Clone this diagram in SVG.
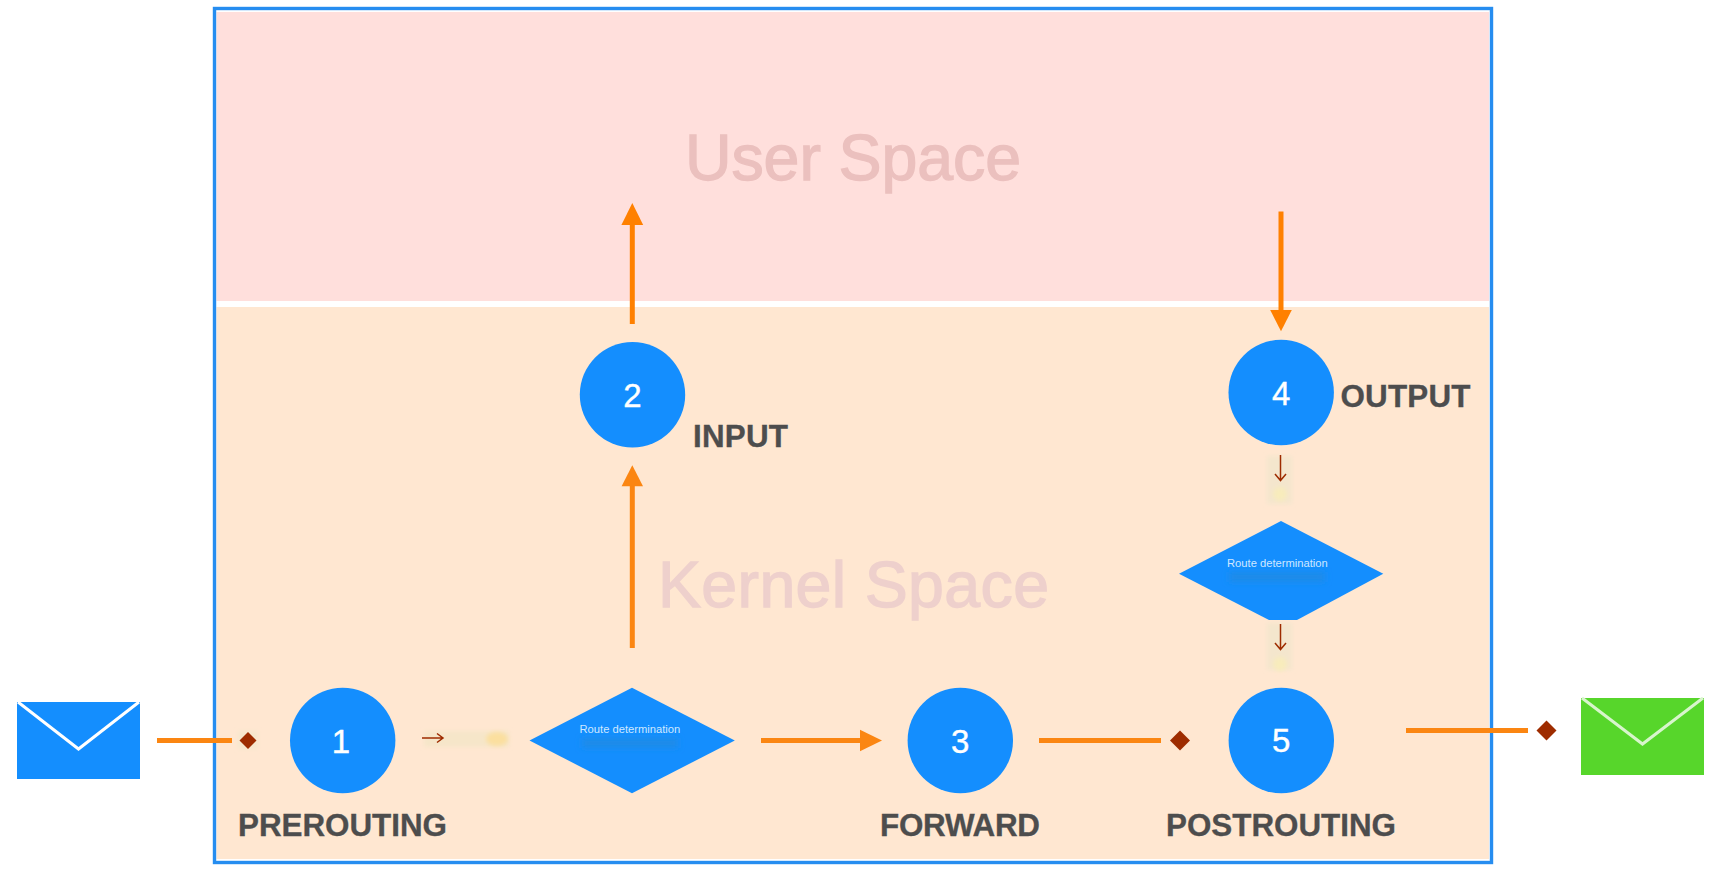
<svg xmlns="http://www.w3.org/2000/svg" width="1718" height="874" viewBox="0 0 1718 874">
<style>
.lane-label{font-family:"Liberation Sans",Arial,sans-serif;font-size:64.500px;stroke-width:1.300}
.hook{font-family:"Liberation Sans",Arial,sans-serif;font-size:31.400px;font-weight:700;fill:#4d4d4d;stroke:#4d4d4d;stroke-width:.3}
.num{font-family:"Liberation Sans",Arial,sans-serif;font-size:33px;fill:#fff;stroke:#fff;stroke-width:.4;text-anchor:middle}
.route{font-family:"Liberation Sans",Arial,sans-serif;font-size:11.200px;fill:#cfe8ff}
.disc{fill:#148efe}
.wire{stroke:#fb8612;stroke-width:5;fill:none}
.stem{fill:#fb8612}
.stop{fill:#9e2c00}
.thin{stroke:#9e2c00;stroke-width:1.500;fill:none}
</style>
<defs>
<filter id="soft" x="-40%" y="-40%" width="180%" height="180%"><feGaussianBlur stdDeviation="2.200"/></filter>
<filter id="soft2" x="-30%" y="-60%" width="160%" height="220%"><feGaussianBlur stdDeviation="3"/></filter>
</defs>
<g id="frame">
<rect x="216.500" y="12" width="1272.500" height="289" fill="#ffdfdc"/>
<rect x="216.500" y="307" width="1272.500" height="552" fill="#ffe7d1"/>
<rect x="214.500" y="8.500" width="1277" height="854" fill="none" stroke="#268df0" stroke-width="3.400"/>
<text class="lane-label" x="685" y="180" fill="#ebc0be" stroke="#ebc0be" textLength="336">User Space</text>
<text class="lane-label" x="658" y="607" fill="#eed0cc" stroke="#eed0cc" textLength="391">Kernel Space</text>
</g>
<g id="smudges">
<rect x="424" y="731" width="85" height="16" fill="#f6e6c9" filter="url(#soft)"/>
<ellipse cx="497" cy="739" rx="11" ry="7" fill="#fbdf9f" filter="url(#soft)"/>
<rect x="1267" y="456" width="25" height="48" fill="#f4e6cd" filter="url(#soft)"/>
<ellipse cx="1280" cy="494" rx="7" ry="7" fill="#f8ecbc" filter="url(#soft)"/>
<rect x="1267" y="623" width="25" height="47" fill="#f4e6cd" filter="url(#soft)"/>
<ellipse cx="1280" cy="664" rx="7" ry="7" fill="#f8ecbc" filter="url(#soft)"/>
<rect x="238" y="731" width="20" height="18" fill="#f6e7cd" filter="url(#soft)"/>
</g>
<g id="connectors">
<line class="wire" x1="157" y1="740.500" x2="232" y2="740.500"/>
<path class="stop" d="M248 732L256.500 740.500L248 749L239.500 740.500Z"/>
<path class="thin" d="M422 738H443M437 733.500L443 738L437 742.500"/>
<line class="wire" x1="761" y1="740.500" x2="862" y2="740.500"/>
<path class="stem" d="M860 729.800L882 740.500L860 751.200Z"/>
<line class="wire" x1="1039" y1="740.500" x2="1161" y2="740.500"/>
<path class="stop" d="M1180 730.500L1190 740.500L1180 750.500L1170 740.500Z"/>
<line class="wire" x1="1406" y1="730.500" x2="1528" y2="730.500"/>
<path class="stop" d="M1546.500 720.500L1556.500 730.500L1546.500 740.500L1536.500 730.500Z"/>
<line class="wire" x1="632.300" y1="648" x2="632.300" y2="484"/>
<path class="stem" d="M632.300 465.300L643 486.300H621.600Z"/>
<line stroke="#ff8000" stroke-width="5" x1="632.300" y1="324" x2="632.300" y2="223"/>
<path fill="#ff8000" d="M632.300 203L643.200 225H621.400Z"/>
<line stroke="#ff8000" stroke-width="5" x1="1281" y1="211.500" x2="1281" y2="312"/>
<path fill="#ff8000" d="M1281 331.300L1291.800 310H1270.200Z"/>
<path class="thin" d="M1280.500 455V480.500M1275 474L1280.500 480.500L1286 474"/>
<path class="thin" d="M1280.500 624V649.500M1275 643L1280.500 649.500L1286 643"/>
</g>
<g id="mail-in">
<rect x="17" y="702" width="123" height="77" fill="#148efe"/>
<path d="M18 702L78.500 749L139 702" fill="none" stroke="#fff" stroke-width="3"/>
</g>
<g id="mail-out">
<rect x="1581" y="698" width="123" height="77" fill="#57d62b"/>
<path d="M1582 698L1642.500 744L1703 698" fill="none" stroke="#d8f5cc" stroke-width="3"/>
</g>
<g id="node-1"><circle class="disc" cx="342.700" cy="740.500" r="52.700"/><text class="num" x="341" y="752.700">1</text><text class="hook" x="238" y="835.700" textLength="209">PREROUTING</text></g>
<g id="node-2"><circle class="disc" cx="632.500" cy="394.700" r="52.700"/><text class="num" x="632.500" y="406.700">2</text><text class="hook" x="693" y="446.700" textLength="95">INPUT</text></g>
<g id="node-3"><circle class="disc" cx="960.300" cy="740.500" r="52.700"/><text class="num" x="960.300" y="752.700">3</text><text class="hook" x="880" y="835.700" textLength="160">FORWARD</text></g>
<g id="node-4"><circle class="disc" cx="1281.200" cy="392.500" r="52.700"/><text class="num" x="1281.200" y="405">4</text><text class="hook" x="1340.500" y="407.300" textLength="130">OUTPUT</text></g>
<g id="node-5"><circle class="disc" cx="1281.300" cy="740.500" r="52.700"/><text class="num" x="1281.300" y="752.400">5</text><text class="hook" x="1166" y="835.700" textLength="230">POSTROUTING</text></g>
<g id="route-1">
<path class="disc" d="M632 687.700L734.800 740.500L632 793.200L529.500 740.500Z"/>
<rect x="582" y="738" width="96" height="10" fill="#1a8be8" filter="url(#soft2)"/>
<text class="route" x="579.500" y="732.700">Route determination</text>
</g>
<g id="route-2">
<path class="disc" d="M1281 521L1383.300 573.700L1297 620H1269L1179 573.700Z"/>
<rect x="1229" y="572" width="96" height="10" fill="#1a8be8" filter="url(#soft2)"/>
<text class="route" x="1227" y="566.700">Route determination</text>
</g>
</svg>
